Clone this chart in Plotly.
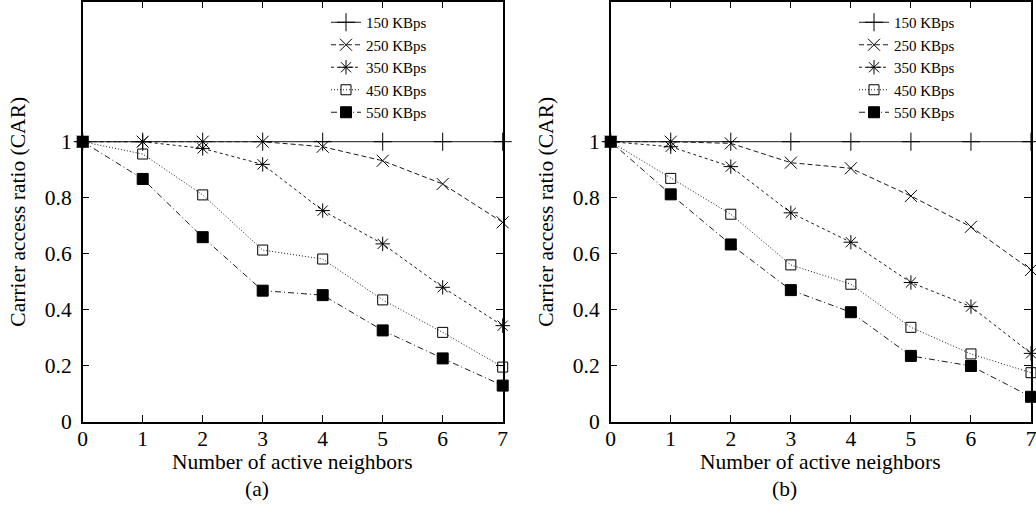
import plotly.graph_objects as go

# ---------------- data ----------------
neighbors = [0, 1, 2, 3, 4, 5, 6, 7]
rates = ["150 KBps", "250 KBps", "350 KBps", "450 KBps", "550 KBps"]

car_a_150 = [1.0, 1.0, 1.0, 1.0, 1.0, 1.0, 1.0, 1.0]
car_a_250 = [1.0, 1.0, 1.0, 1.0, 0.982, 0.932, 0.849, 0.712]
car_a_350 = [1.0, 1.0, 0.976, 0.919, 0.754, 0.635, 0.480, 0.343]
car_a_450 = [1.0, 0.956, 0.810, 0.613, 0.581, 0.435, 0.319, 0.195]
car_a_550 = [1.0, 0.867, 0.659, 0.468, 0.452, 0.326, 0.226, 0.129]

car_b_150 = [1.0, 1.0, 1.0, 1.0, 1.0, 1.0, 1.0, 1.0]
car_b_250 = [1.0, 1.0, 0.994, 0.925, 0.905, 0.806, 0.696, 0.542]
car_b_350 = [1.0, 0.982, 0.911, 0.746, 0.641, 0.497, 0.411, 0.244]
car_b_450 = [1.0, 0.869, 0.741, 0.560, 0.491, 0.337, 0.242, 0.175]
car_b_550 = [1.0, 0.812, 0.633, 0.470, 0.391, 0.235, 0.199, 0.089]

y_tick_vals = [0, 0.2, 0.4, 0.6, 0.8, 1]
y_tick_text = ["0", "0.2", "0.4", "0.6", "0.8", "1"]
x_tick_vals = neighbors
x_title = "Number of active neighbors"
y_title = "Carrier access ratio (CAR)"
panel_labels = ["(a)", "(b)"]

series_a = [car_a_150, car_a_250, car_a_350, car_a_450, car_a_550]
series_b = [car_b_150, car_b_250, car_b_350, car_b_450, car_b_550]

# ---------------- styles ----------------
FONT = "Liberation Serif, Times New Roman, serif"
FS = 21.5
INK = "#000000"
LINE_INK = "#1a1a1a"
styles = [
    dict(dash="solid", symbol="cross-thin", size=13),
    dict(dash="5px,3px", symbol="x-thin", size=12),
    dict(dash="3px,3px", symbol="asterisk", size=12),
    dict(dash="1px,2px", symbol="square-open", size=10),
    dict(dash="6px,3px,1px,3px", symbol="square", size=11),
]

W, H = 1036, 508
# plot areas in pixels (left, right) and (top, bottom)
panels_x = [(82.7, 502.7), (610.7, 1031.0)]
plot_top, plot_bottom = 1.7, 421.7

fig = go.Figure()

for p, (series, legend_name) in enumerate(zip([series_a, series_b], ["legend", "legend2"])):
    xa = "x" if p == 0 else "x2"
    ya = "y" if p == 0 else "y2"
    for name, vals, st in zip(rates, series, styles):
        fig.add_trace(go.Scatter(
            x=neighbors, y=vals, name=name, mode="lines+markers",
            xaxis=xa, yaxis=ya, legend=legend_name, cliponaxis=False,
            line=dict(color=LINE_INK, width=1, dash=st["dash"]),
            marker=dict(symbol=st["symbol"], size=st["size"], color=INK,
                        line=dict(color=INK, width=1)),
        ))

ydom = [1 - plot_bottom / H, 1 - plot_top / H]
axis_common = dict(
    showline=True, linecolor=INK, linewidth=1.5, mirror="allticks",
    ticks="inside", ticklen=7, tickwidth=1, tickcolor=INK,
    showgrid=False, zeroline=False, automargin=False,
    tickfont=dict(family=FONT, size=FS, color=INK),
)

layout_axes = {}
for p, (x0, x1) in enumerate(panels_x):
    sfx = "" if p == 0 else "2"
    layout_axes["xaxis" + sfx] = dict(
        axis_common, domain=[x0 / W, x1 / W], range=[0, 7],
        tickvals=x_tick_vals, anchor="y" + sfx, ticklabelstandoff=-3,
        ticklabeloverflow="allow",
    )
    layout_axes["yaxis" + sfx] = dict(
        axis_common, domain=ydom, range=[0, 1.5],
        tickvals=y_tick_vals, ticktext=y_tick_text, anchor="x" + sfx,
        ticklabelstandoff=5,
    )

legend_common = dict(
    font=dict(family=FONT, size=15, color=INK),
    bgcolor="rgba(0,0,0,0)", borderwidth=0,
    xanchor="left", yanchor="top", tracegroupgap=0,
)

fig.update_layout(
    width=W, height=H,
    template="none",
    paper_bgcolor="white", plot_bgcolor="white",
    margin=dict(l=0, r=0, t=0, b=0),
    showlegend=True,
    legend=dict(legend_common, x=326 / W, y=1 - 6 / H),
    legend2=dict(legend_common, x=854 / W, y=1 - 6 / H),
    font=dict(family=FONT, size=FS, color=INK),
    **layout_axes,
)

title_font = dict(family=FONT, size=FS, color=INK)
for p, (x0, x1) in enumerate(panels_x):
    cx = (x0 + x1) / 2
    # x-axis title
    fig.add_annotation(
        text=x_title, xref="paper", yref="paper",
        x=cx / W, y=1 - 462 / H, xanchor="center", yanchor="middle",
        showarrow=False, font=title_font,
    )
    # y-axis title
    fig.add_annotation(
        text=y_title, xref="paper", yref="paper", textangle=-90,
        x=(x0 - 64.7) / W, y=1 - (plot_top + plot_bottom) / 2 / H,
        xanchor="center", yanchor="middle",
        showarrow=False, font=title_font,
    )
    # panel label
    fig.add_annotation(
        text=panel_labels[p], xref="paper", yref="paper",
        x=(cx - 36) / W, y=1 - 489 / H, xanchor="center", yanchor="middle",
        showarrow=False, font=title_font,
    )

fig.write_html(
    "out.html",
    config={"displayModeBar": False},
    post_script="document.body.style.margin='0';",
)
